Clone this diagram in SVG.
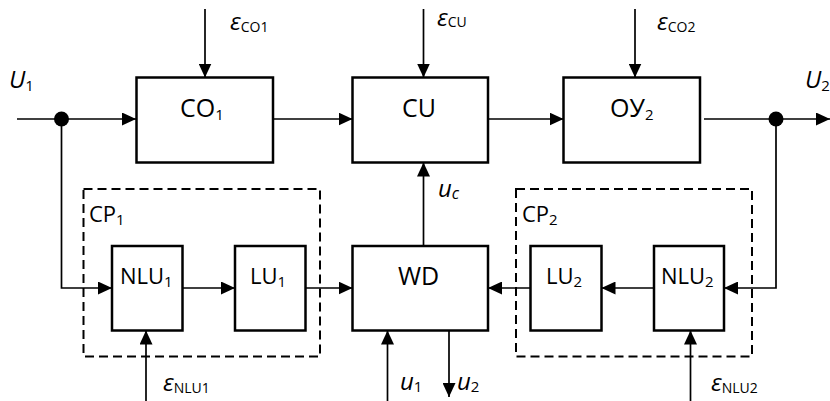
<svg xmlns="http://www.w3.org/2000/svg" width="830" height="401" viewBox="0 0 830 401">
<defs>
<marker id="arr" markerUnits="userSpaceOnUse" markerWidth="14" markerHeight="13" refX="14" refY="6.5" orient="auto">
<path d="M0,0 L14,6.5 L0,13 z" fill="#000"/>
</marker>
<style>
.box{fill:#fff;stroke:#000;stroke-width:2.5}
.dash{fill:none;stroke:#000;stroke-width:2;stroke-dasharray:9 5}
.ln{fill:none;stroke:#000;stroke-width:1.7}
.lnA{fill:none;stroke:#000;stroke-width:1.7;marker-end:url(#arr)}
.t{font-family:"Open Sans","Liberation Sans",sans-serif;font-size:25px;fill:#000}
.ts{font-family:"Open Sans","Liberation Sans",sans-serif;font-size:22px;fill:#000}
.i{font-family:"Open Sans","Liberation Sans",sans-serif;font-size:24px;font-style:italic;fill:#000}
.sub{font-size:15px;font-style:normal}
.esub{font-size:14px;font-style:normal}
</style>
</defs>
<g id="connectors">
<line class="lnA" x1="17" y1="119" x2="136" y2="119"/>
<polyline class="lnA" points="61.5,119 61.5,288 112,288"/>
<line class="lnA" x1="273" y1="119" x2="352.5" y2="119"/>
<line class="lnA" x1="488" y1="119" x2="563.5" y2="119"/>
<line class="lnA" x1="704" y1="119" x2="830" y2="119"/>
<polyline class="lnA" points="776,119 776,288 724,288"/>
<line class="lnA" x1="182.5" y1="288" x2="235" y2="288"/>
<line class="lnA" x1="305.5" y1="288" x2="352.5" y2="288"/>
<line class="lnA" x1="654" y1="288" x2="601.5" y2="288"/>
<line class="lnA" x1="530.5" y1="288" x2="488" y2="288"/>
<line class="lnA" x1="423.5" y1="246" x2="423.5" y2="162.5"/>
<line class="lnA" x1="205" y1="9" x2="205" y2="77.5"/>
<line class="lnA" x1="423.5" y1="9" x2="423.5" y2="77.5"/>
<line class="lnA" x1="635" y1="9" x2="635" y2="77.5"/>
<line class="lnA" x1="146" y1="401" x2="146" y2="330.5"/>
<line class="lnA" x1="690.5" y1="401" x2="690.5" y2="330.5"/>
<line class="lnA" x1="387.5" y1="401" x2="387.5" y2="330.5"/>
<line class="lnA" x1="449" y1="330.5" x2="449" y2="397"/>
<circle cx="61.5" cy="119" r="7.5" fill="#000"/>
<circle cx="776" cy="119" r="7.5" fill="#000"/>
</g>
<g id="CP1">
<rect class="dash" x="83.5" y="189" width="236.5" height="167.5"/>
<text class="ts" x="89" y="222">CP<tspan class="sub" dy="3">1</tspan></text>
</g>
<g id="CP2">
<rect class="dash" x="516" y="189" width="236" height="167.5"/>
<text class="ts" x="522" y="222">CP<tspan class="sub" dy="3">2</tspan></text>
</g>
<g id="CO1">
<rect class="box" x="136.5" y="77.5" width="136.5" height="85"/>
<text class="t" x="180" y="117">CO<tspan class="sub" dy="3">1</tspan></text>
</g>
<g id="CU">
<rect class="box" x="352.5" y="77.5" width="135.5" height="85"/>
<text class="t" x="402" y="117">CU</text>
</g>
<g id="OU2">
<rect class="box" x="563.5" y="77.5" width="136.5" height="85"/>
<text class="t" x="610" y="117">ОУ<tspan class="sub" dy="3">2</tspan></text>
</g>
<g id="NLU1">
<rect class="box" x="112" y="246" width="70.5" height="84.5"/>
<text class="ts" x="120" y="284">NLU<tspan class="sub" dy="3">1</tspan></text>
</g>
<g id="LU1">
<rect class="box" x="235" y="246" width="70.5" height="84.5"/>
<text class="ts" x="250" y="284">LU<tspan class="sub" dy="3">1</tspan></text>
</g>
<g id="WD">
<rect class="box" x="352.5" y="246" width="135.5" height="84.5"/>
<text class="t" x="398" y="285">WD</text>
</g>
<g id="LU2">
<rect class="box" x="530.5" y="246" width="71" height="84.5"/>
<text class="ts" x="546" y="284">LU<tspan class="sub" dy="3">2</tspan></text>
</g>
<g id="NLU2">
<rect class="box" x="654" y="246" width="70" height="84.5"/>
<text class="ts" x="661" y="284">NLU<tspan class="sub" dy="3">2</tspan></text>
</g>
<g id="labels">
<text class="i" x="9" y="88">U<tspan class="sub" dy="3">1</tspan></text>
<text class="i" x="805" y="88">U<tspan class="sub" dy="3">2</tspan></text>
<text class="i" x="230" y="30">ε<tspan class="esub" dy="1.5">CO1</tspan></text>
<text class="i" x="437" y="26" font-size="22">ε<tspan class="esub" dy="1">CU</tspan></text>
<text class="i" x="657" y="30">ε<tspan class="esub" dy="1.5">CO2</tspan></text>
<text class="i" x="163" y="391">ε<tspan class="esub" dy="1.5">NLU1</tspan></text>
<text class="i" x="711" y="391">ε<tspan class="esub" dy="1.5">NLU2</tspan></text>
<text class="i" x="438" y="197">u<tspan font-size="16" dy="2">c</tspan></text>
<text class="i" x="400" y="390">u<tspan class="sub" dy="2">1</tspan></text>
<text class="i" x="457" y="390">u<tspan class="sub" dy="2">2</tspan></text>
</g>
</svg>
